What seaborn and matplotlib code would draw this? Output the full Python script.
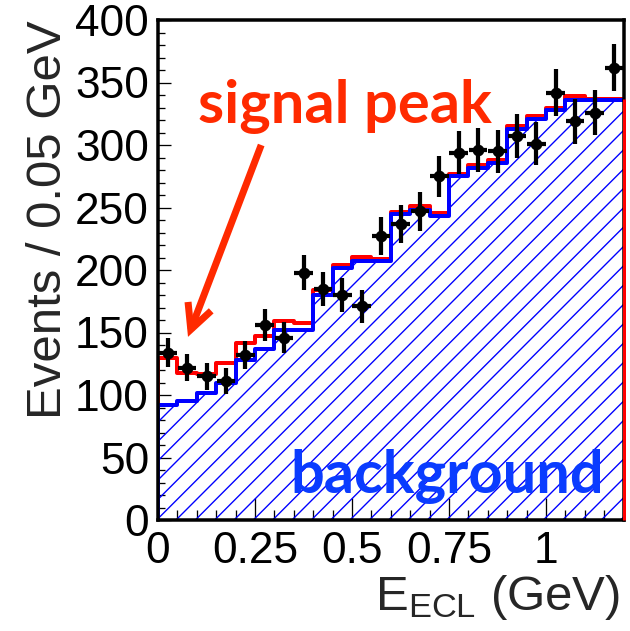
import numpy as np
import pandas as pd
import matplotlib
matplotlib.use("Agg")
import matplotlib.pyplot as plt
import seaborn as sns
from matplotlib.ticker import MultipleLocator, FixedLocator, FixedFormatter

# 24 bins of 0.05 GeV between 0 and 1.2 GeV
bin_edges = [round(0.05 * i, 2) for i in range(25)]
bin_centers = [0.5 * (a + b) for a, b in zip(bin_edges[:-1], bin_edges[1:])]

# observed events per bin
data_counts = [134, 122, 115, 111, 132, 156, 146, 198, 185, 180, 171, 227,
               237, 247, 275, 294, 296, 295, 307, 301, 342, 319, 326, 362]
# fitted background component
background = [92, 95, 102, 110, 128, 137, 152, 152, 180, 202, 207, 207,
              244.5, 248, 243, 275, 282, 286, 313, 321, 328, 336, 336, 336]
# fitted signal + background
total = [130, 118, 117, 126, 142, 147, 159.5, 158, 184, 204, 210.5, 209,
         246.5, 251.5, 246, 277, 284, 288, 315, 323, 330, 339, 337, 336.5]

x_ticks = [0.0, 0.25, 0.5, 0.75, 1.0]
x_tick_labels = ["0", "0.25", "0.5", "0.75", "1"]
y_ticks = [0, 50, 100, 150, 200, 250, 300, 350, 400]

DPI = 116
W, H = 630, 631


def pt(px):
    """Convert a length in pixels to points for this figure."""
    return px * 72.0 / DPI


RED = "#ff0000"
BLUE = "#0000ff"
TXT_RED = "#ff2a00"
TXT_BLUE = "#0a3cff"

sns.set_theme(style="ticks")
plt.rcParams["font.family"] = ["Liberation Sans", "DejaVu Sans"]
plt.rcParams["mathtext.fontset"] = "custom"
plt.rcParams["mathtext.rm"] = "Liberation Sans"
plt.rcParams["mathtext.it"] = "Liberation Sans"
plt.rcParams["hatch.linewidth"] = 0.85

fig = plt.figure(figsize=(W / DPI, H / DPI), dpi=DPI)
ax = fig.add_axes([158 / W, 1 - 520 / H, (623.6 - 158) / W, 500 / H])

df = pd.DataFrame({"E": bin_centers, "background": background, "total": total})

# hatched background area
sns.histplot(data=df, x="E", weights="background", bins=bin_edges,
             element="step", fill=True, color=BLUE, facecolor="none",
             edgecolor=BLUE, linewidth=0, hatch="//", ax=ax, zorder=1)
# signal + background outline
sns.histplot(data=df, x="E", weights="total", bins=bin_edges,
             element="step", fill=False, color=RED, linewidth=pt(4.0),
             ax=ax, zorder=2)
ax.vlines(bin_edges[0], 0, total[0], color=RED, linewidth=pt(4.0), zorder=2)
# background outline
sns.histplot(data=df, x="E", weights="background", bins=bin_edges,
             element="step", fill=False, color=BLUE, linewidth=pt(4.0),
             ax=ax, zorder=3)
ax.vlines(bin_edges[0], 0, background[0], color=BLUE, linewidth=pt(4.0), zorder=3)
ax.vlines(bin_edges[-1], 0, total[-1], color=RED, linewidth=pt(3.0),
          zorder=7, clip_on=False)

# data points with Poisson errors
ax.errorbar(bin_centers, data_counts, yerr=np.sqrt(data_counts), xerr=0.024,
            fmt="o", color="black", ms=pt(10), elinewidth=pt(4.2),
            capsize=0, zorder=6)

ax.set_xlim(0, 1.2)
ax.set_ylim(0, 400)

for side in ["left", "bottom", "top", "right"]:
    ax.spines[side].set_visible(True)
    ax.spines[side].set_linewidth(pt(3.5))
    ax.spines[side].set_color("black")
    ax.spines[side].set_zorder(5)

ax.xaxis.set_major_locator(FixedLocator(x_ticks))
ax.xaxis.set_major_formatter(FixedFormatter(x_tick_labels))
ax.xaxis.set_minor_locator(MultipleLocator(0.05))
ax.yaxis.set_major_locator(FixedLocator(y_ticks))
ax.yaxis.set_minor_locator(MultipleLocator(10))

ax.tick_params(axis="both", which="both", direction="in", top=False, right=False,
               colors="black", labelsize=27.5)
ax.tick_params(axis="x", which="major", length=pt(22), width=pt(1.3), pad=pt(11))
ax.tick_params(axis="x", which="minor", length=pt(10), width=pt(1.3))
ax.tick_params(axis="y", which="major", length=pt(13), width=pt(1.3), pad=pt(9))
ax.tick_params(axis="y", which="minor", length=pt(7), width=pt(1.3))

ax.set_ylabel("Events / 0.05 GeV", fontsize=30.5, loc="top")
ax.yaxis.set_label_coords(-0.186, 1.0)
ax.set_xlabel(r"$\mathregular{E_{ECL}}$ (GeV)", fontsize=30.5, loc="right")
ax.xaxis.set_label_coords(0.993, -0.106)

# annotations
fig.text(198 / W, 1 - 123 / H, "signal peak", color=TXT_RED, fontsize=37,
         fontweight="bold", family=["Lato", "DejaVu Sans"],
         ha="left", va="baseline")
fig.text(290 / W, 1 - 493 / H, "background", color=TXT_BLUE, fontsize=37,
         fontweight="bold", family=["Lato", "DejaVu Sans"],
         ha="left", va="baseline", zorder=8)
ax.annotate("", xy=(0.0773, 146.5), xytext=(0.266, 300),
            arrowprops=dict(arrowstyle="->", color=TXT_RED, lw=pt(7),
                            mutation_scale=pt(62), shrinkA=0, shrinkB=0,
                            joinstyle="miter", capstyle="butt"))

fig.savefig("out.png", dpi=DPI)
